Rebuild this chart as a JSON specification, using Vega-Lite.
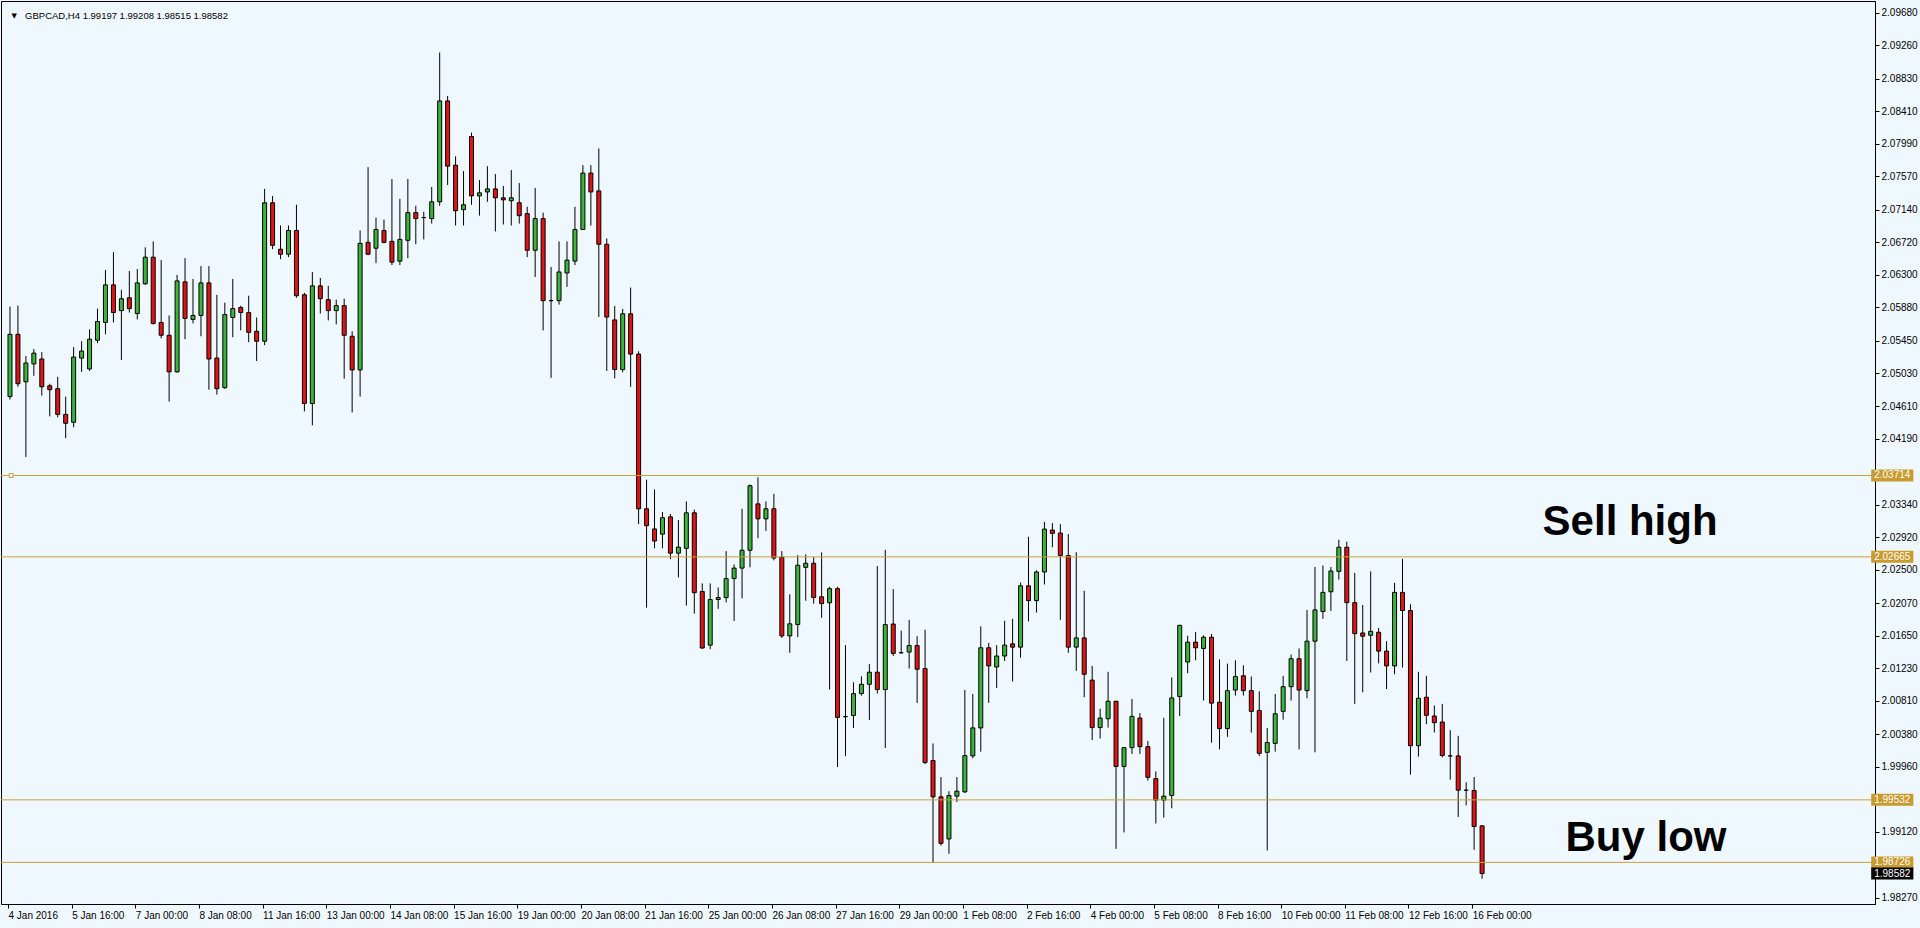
{
  "$schema": "https://vega.github.io/schema/vega-lite/v6.json",
  "width": 1874,
  "height": 903,
  "autosize": {"type": "none"},
  "padding": {"left": 1, "top": 1, "right": 45, "bottom": 24},
  "background": "#F0F8FF",
  "config": {"view": {"stroke": "#000000", "strokeWidth": 1, "fill": "#F0F8FF"}, "font": "Liberation Sans"},
  "datasets": {
    "candles": [
      {"i":0,"o":2.04731,"h":2.05891,"l":2.04693,"c":2.05534},
      {"i":1,"o":2.05534,"h":2.05904,"l":2.04858,"c":2.04897},
      {"i":2,"o":2.04922,"h":2.05254,"l":2.03953,"c":2.05164},
      {"i":3,"o":2.05152,"h":2.05343,"l":2.04999,"c":2.05292},
      {"i":4,"o":2.05216,"h":2.05305,"l":2.04744,"c":2.04858},
      {"i":5,"o":2.04871,"h":2.04897,"l":2.04476,"c":2.0482},
      {"i":6,"o":2.04833,"h":2.04986,"l":2.04463,"c":2.04502},
      {"i":7,"o":2.04502,"h":2.04731,"l":2.04196,"c":2.04387},
      {"i":8,"o":2.044,"h":2.05369,"l":2.04336,"c":2.05241},
      {"i":9,"o":2.05228,"h":2.05445,"l":2.0505,"c":2.05318},
      {"i":10,"o":2.05088,"h":2.05598,"l":2.05063,"c":2.05471},
      {"i":11,"o":2.05458,"h":2.05866,"l":2.0542,"c":2.057},
      {"i":12,"o":2.05687,"h":2.06363,"l":2.05534,"c":2.06172},
      {"i":13,"o":2.06172,"h":2.06593,"l":2.05687,"c":2.05815},
      {"i":14,"o":2.0584,"h":2.06108,"l":2.05203,"c":2.05993},
      {"i":15,"o":2.06006,"h":2.0635,"l":2.05815,"c":2.05866},
      {"i":16,"o":2.05802,"h":2.06376,"l":2.05726,"c":2.06197},
      {"i":17,"o":2.06185,"h":2.06656,"l":2.06172,"c":2.06529},
      {"i":18,"o":2.06529,"h":2.06733,"l":2.0566,"c":2.05675},
      {"i":19,"o":2.05687,"h":2.06491,"l":2.05483,"c":2.05522},
      {"i":20,"o":2.05522,"h":2.05777,"l":2.04667,"c":2.0505},
      {"i":21,"o":2.0505,"h":2.06299,"l":2.0504,"c":2.06223},
      {"i":22,"o":2.0621,"h":2.06516,"l":2.05471,"c":2.05738},
      {"i":23,"o":2.05726,"h":2.06248,"l":2.05675,"c":2.05777},
      {"i":24,"o":2.05777,"h":2.06414,"l":2.05509,"c":2.06197},
      {"i":25,"o":2.06197,"h":2.06414,"l":2.0482,"c":2.05216},
      {"i":26,"o":2.05228,"h":2.06044,"l":2.04757,"c":2.04833},
      {"i":27,"o":2.04846,"h":2.05942,"l":2.04833,"c":2.05789},
      {"i":28,"o":2.05751,"h":2.06248,"l":2.05496,"c":2.05866},
      {"i":29,"o":2.05879,"h":2.05904,"l":2.05585,"c":2.05815},
      {"i":30,"o":2.05815,"h":2.06032,"l":2.05432,"c":2.0556},
      {"i":31,"o":2.05573,"h":2.05751,"l":2.0519,"c":2.05445},
      {"i":32,"o":2.05445,"h":2.07409,"l":2.05394,"c":2.0723},
      {"i":33,"o":2.0723,"h":2.07319,"l":2.06631,"c":2.06682},
      {"i":34,"o":2.06631,"h":2.06937,"l":2.06503,"c":2.06567},
      {"i":35,"o":2.06567,"h":2.06937,"l":2.06529,"c":2.06873},
      {"i":36,"o":2.06873,"h":2.07205,"l":2.06006,"c":2.06032},
      {"i":37,"o":2.06044,"h":2.0607,"l":2.0454,"c":2.04642},
      {"i":38,"o":2.04642,"h":2.06338,"l":2.04361,"c":2.06159},
      {"i":39,"o":2.06159,"h":2.06261,"l":2.05802,"c":2.05993},
      {"i":40,"o":2.05981,"h":2.06159,"l":2.05713,"c":2.0584},
      {"i":41,"o":2.0584,"h":2.05981,"l":2.05662,"c":2.05904},
      {"i":42,"o":2.05904,"h":2.05993,"l":2.04961,"c":2.05522},
      {"i":43,"o":2.05509,"h":2.05573,"l":2.04527,"c":2.05075},
      {"i":44,"o":2.05075,"h":2.06873,"l":2.04731,"c":2.06707},
      {"i":45,"o":2.0672,"h":2.07689,"l":2.06554,"c":2.06567},
      {"i":46,"o":2.06644,"h":2.07039,"l":2.06452,"c":2.06886},
      {"i":47,"o":2.06873,"h":2.07013,"l":2.06707,"c":2.0672},
      {"i":48,"o":2.06733,"h":2.07536,"l":2.06427,"c":2.06465},
      {"i":49,"o":2.06478,"h":2.07281,"l":2.06427,"c":2.06758},
      {"i":50,"o":2.06746,"h":2.07536,"l":2.06516,"c":2.07103},
      {"i":51,"o":2.07103,"h":2.07192,"l":2.06695,"c":2.07026},
      {"i":52,"o":2.07039,"h":2.07115,"l":2.06758,"c":2.07039},
      {"i":53,"o":2.07026,"h":2.07434,"l":2.06962,"c":2.07243},
      {"i":54,"o":2.07243,"h":2.09168,"l":2.07192,"c":2.08543},
      {"i":55,"o":2.08543,"h":2.08607,"l":2.0746,"c":2.07702},
      {"i":56,"o":2.07715,"h":2.07829,"l":2.06937,"c":2.07128},
      {"i":57,"o":2.07141,"h":2.07638,"l":2.06937,"c":2.07205},
      {"i":58,"o":2.08084,"h":2.08135,"l":2.07205,"c":2.07319},
      {"i":59,"o":2.07319,"h":2.07523,"l":2.07064,"c":2.07358},
      {"i":60,"o":2.0737,"h":2.07702,"l":2.07243,"c":2.07409},
      {"i":61,"o":2.07409,"h":2.076,"l":2.0686,"c":2.07294},
      {"i":62,"o":2.07294,"h":2.07447,"l":2.0695,"c":2.07268},
      {"i":63,"o":2.07256,"h":2.07651,"l":2.06937,"c":2.07294},
      {"i":64,"o":2.0723,"h":2.07485,"l":2.06962,"c":2.07064},
      {"i":65,"o":2.0709,"h":2.07179,"l":2.06529,"c":2.06618},
      {"i":66,"o":2.06618,"h":2.07421,"l":2.06274,"c":2.07026},
      {"i":67,"o":2.07026,"h":2.07103,"l":2.05585,"c":2.05968},
      {"i":68,"o":2.05968,"h":2.06401,"l":2.04973,"c":2.05968},
      {"i":69,"o":2.05968,"h":2.06733,"l":2.05917,"c":2.06338},
      {"i":70,"o":2.06325,"h":2.06733,"l":2.06146,"c":2.06491},
      {"i":71,"o":2.06478,"h":2.07179,"l":2.06427,"c":2.06886},
      {"i":72,"o":2.06886,"h":2.07715,"l":2.06886,"c":2.07613},
      {"i":73,"o":2.07613,"h":2.07715,"l":2.06937,"c":2.0737},
      {"i":74,"o":2.07383,"h":2.07931,"l":2.05757,"c":2.06695},
      {"i":75,"o":2.06695,"h":2.06771,"l":2.05063,"c":2.05757},
      {"i":76,"o":2.0572,"h":2.05898,"l":2.04966,"c":2.0508},
      {"i":77,"o":2.0508,"h":2.05862,"l":2.05045,"c":2.05799},
      {"i":78,"o":2.05799,"h":2.06137,"l":2.04857,"c":2.05279},
      {"i":79,"o":2.05279,"h":2.05315,"l":2.03086,"c":2.03285},
      {"i":80,"o":2.03285,"h":2.0366,"l":2.0201,"c":2.03067},
      {"i":81,"o":2.03025,"h":2.03535,"l":2.02775,"c":2.0287},
      {"i":82,"o":2.02958,"h":2.03243,"l":2.02775,"c":2.0317},
      {"i":83,"o":2.03181,"h":2.03218,"l":2.02635,"c":2.02713},
      {"i":84,"o":2.02713,"h":2.0314,"l":2.024,"c":2.0279},
      {"i":85,"o":2.02775,"h":2.0338,"l":2.02037,"c":2.03233},
      {"i":86,"o":2.03233,"h":2.03275,"l":2.01932,"c":2.02203},
      {"i":87,"o":2.02219,"h":2.02323,"l":2.0148,"c":2.0149},
      {"i":88,"o":2.01527,"h":2.02323,"l":2.01475,"c":2.02115},
      {"i":89,"o":2.02115,"h":2.0227,"l":2.01995,"c":2.0214},
      {"i":90,"o":2.0214,"h":2.02739,"l":2.02078,"c":2.02385},
      {"i":91,"o":2.02385,"h":2.02567,"l":2.01838,"c":2.0252},
      {"i":92,"o":2.0252,"h":2.03285,"l":2.0213,"c":2.0275},
      {"i":93,"o":2.0275,"h":2.03598,"l":2.0253,"c":2.03582},
      {"i":94,"o":2.03348,"h":2.03691,"l":2.02905,"c":2.03155},
      {"i":95,"o":2.03155,"h":2.0338,"l":2.03,"c":2.03285},
      {"i":96,"o":2.03285,"h":2.03478,"l":2.0262,"c":2.0265},
      {"i":97,"o":2.0266,"h":2.02739,"l":2.0162,"c":2.01646},
      {"i":98,"o":2.01646,"h":2.02182,"l":2.01428,"c":2.01802},
      {"i":99,"o":2.01792,"h":2.02687,"l":2.0163,"c":2.02557},
      {"i":100,"o":2.0253,"h":2.02697,"l":2.02099,"c":2.02583},
      {"i":101,"o":2.02583,"h":2.0266,"l":2.02062,"c":2.0214},
      {"i":102,"o":2.0215,"h":2.02723,"l":2.0188,"c":2.02062},
      {"i":103,"o":2.02073,"h":2.0228,"l":2.00954,"c":2.02255},
      {"i":104,"o":2.02255,"h":2.0228,"l":1.99955,"c":2.00595},
      {"i":105,"o":2.00605,"h":2.01527,"l":2.00095,"c":2.00605},
      {"i":106,"o":2.0062,"h":2.01048,"l":2.0046,"c":2.00902},
      {"i":107,"o":2.00902,"h":2.01125,"l":2.00875,"c":2.01022},
      {"i":108,"o":2.01022,"h":2.01282,"l":2.00563,"c":2.01178},
      {"i":109,"o":2.01178,"h":2.02547,"l":2.00902,"c":2.00954},
      {"i":110,"o":2.00954,"h":2.02755,"l":2.002,"c":2.01792},
      {"i":111,"o":2.01799,"h":2.02249,"l":2.01387,"c":2.0142},
      {"i":112,"o":2.01429,"h":2.01713,"l":2.01416,"c":2.01429},
      {"i":113,"o":2.01438,"h":2.01853,"l":2.01225,"c":2.01522},
      {"i":114,"o":2.01522,"h":2.01642,"l":2.00782,"c":2.01216},
      {"i":115,"o":2.01225,"h":2.01726,"l":1.99992,"c":2.00014},
      {"i":116,"o":2.00039,"h":2.0026,"l":1.98717,"c":1.99571},
      {"i":117,"o":1.99571,"h":1.99826,"l":1.98943,"c":1.98972},
      {"i":118,"o":1.99028,"h":1.99644,"l":1.98837,"c":1.99589},
      {"i":119,"o":1.9958,"h":1.99826,"l":1.99504,"c":1.99644},
      {"i":120,"o":1.99635,"h":2.00948,"l":1.99622,"c":2.00103},
      {"i":121,"o":2.00099,"h":2.00897,"l":2.00068,"c":2.0046},
      {"i":122,"o":2.0046,"h":2.01769,"l":2.00154,"c":2.01493},
      {"i":123,"o":2.01493,"h":2.01556,"l":2.00782,"c":2.01259},
      {"i":124,"o":2.01246,"h":2.01527,"l":2.00974,"c":2.01387},
      {"i":125,"o":2.01387,"h":2.01841,"l":2.01323,"c":2.01527},
      {"i":126,"o":2.01544,"h":2.01866,"l":2.01059,"c":2.01501},
      {"i":127,"o":2.01501,"h":2.02334,"l":2.01365,"c":2.02292},
      {"i":128,"o":2.02292,"h":2.02924,"l":2.01833,"c":2.02101},
      {"i":129,"o":2.02101,"h":2.02491,"l":2.01948,"c":2.0247},
      {"i":130,"o":2.0247,"h":2.03116,"l":2.02309,"c":2.03023},
      {"i":131,"o":2.0301,"h":2.03099,"l":2.02789,"c":2.02968},
      {"i":132,"o":2.02972,"h":2.03086,"l":2.01853,"c":2.02682},
      {"i":133,"o":2.02682,"h":2.02959,"l":2.01429,"c":2.01501},
      {"i":134,"o":2.01501,"h":2.02725,"l":2.01195,"c":2.0162},
      {"i":135,"o":2.0162,"h":2.02228,"l":2.00855,"c":2.01152},
      {"i":136,"o":2.01076,"h":2.01259,"l":2.00303,"c":2.00464},
      {"i":137,"o":2.00464,"h":2.00706,"l":2.00323,"c":2.00587},
      {"i":138,"o":2.00578,"h":2.01183,"l":2.00464,"c":2.00804},
      {"i":139,"o":2.00804,"h":2.00804,"l":1.989,"c":1.99963},
      {"i":140,"o":1.99963,"h":2.00209,"l":1.99112,"c":2.00205},
      {"i":141,"o":2.00205,"h":2.00833,"l":2.00124,"c":2.00609},
      {"i":142,"o":2.00587,"h":2.00651,"l":2.00124,"c":2.00218},
      {"i":143,"o":2.00218,"h":2.0029,"l":1.9978,"c":1.99822},
      {"i":144,"o":1.99806,"h":1.99899,"l":1.99227,"c":1.99529},
      {"i":145,"o":1.99529,"h":2.00591,"l":1.99303,"c":1.9958},
      {"i":146,"o":1.99589,"h":2.0111,"l":1.99423,"c":2.00846},
      {"i":147,"o":2.00864,"h":2.0179,"l":2.00613,"c":2.01782},
      {"i":148,"o":2.0131,"h":2.01649,"l":2.01165,"c":2.01565},
      {"i":149,"o":2.01565,"h":2.01697,"l":2.01331,"c":2.01493},
      {"i":150,"o":2.01484,"h":2.01654,"l":2.00813,"c":2.01629},
      {"i":151,"o":2.01629,"h":2.01671,"l":2.00269,"c":2.00779},
      {"i":152,"o":2.00791,"h":2.01343,"l":2.00183,"c":2.00451},
      {"i":153,"o":2.00451,"h":2.01289,"l":2.00345,"c":2.0094},
      {"i":154,"o":2.00948,"h":2.01331,"l":2.00877,"c":2.01123},
      {"i":155,"o":2.01132,"h":2.01267,"l":2.00877,"c":2.0094},
      {"i":156,"o":2.0094,"h":2.01123,"l":2.004,"c":2.00673},
      {"i":157,"o":2.00685,"h":2.00932,"l":2.00099,"c":2.00132},
      {"i":158,"o":2.00145,"h":2.0046,"l":1.98879,"c":2.00272},
      {"i":159,"o":2.0026,"h":2.00897,"l":2.00154,"c":2.00642},
      {"i":160,"o":2.00673,"h":2.01132,"l":2.00566,"c":2.00991},
      {"i":161,"o":2.00991,"h":2.01407,"l":2.00813,"c":2.01352},
      {"i":162,"o":2.01352,"h":2.01484,"l":2.00183,"c":2.00948},
      {"i":163,"o":2.0094,"h":2.01981,"l":2.00842,"c":2.01578},
      {"i":164,"o":2.01578,"h":2.02534,"l":2.00145,"c":2.01981},
      {"i":165,"o":2.0196,"h":2.02555,"l":2.01866,"c":2.02207},
      {"i":166,"o":2.02215,"h":2.02534,"l":2.01968,"c":2.02483},
      {"i":167,"o":2.02478,"h":2.02886,"l":2.02372,"c":2.02789},
      {"i":168,"o":2.02789,"h":2.02861,"l":2.01323,"c":2.02075},
      {"i":169,"o":2.02075,"h":2.02458,"l":2.0077,"c":2.01675},
      {"i":170,"o":2.01684,"h":2.02045,"l":2.00919,"c":2.01642},
      {"i":171,"o":2.01654,"h":2.02478,"l":2.01174,"c":2.01705},
      {"i":172,"o":2.01693,"h":2.01748,"l":2.01292,"c":2.0145},
      {"i":173,"o":2.0145,"h":2.01578,"l":2.00961,"c":2.01259},
      {"i":174,"o":2.01259,"h":2.0233,"l":2.01152,"c":2.02207},
      {"i":175,"o":2.02207,"h":2.0264,"l":2.01238,"c":2.01973},
      {"i":176,"o":2.01973,"h":2.02054,"l":1.99857,"c":2.0023},
      {"i":177,"o":2.0023,"h":2.01183,"l":2.0009,"c":2.00842},
      {"i":178,"o":2.00855,"h":2.01132,"l":2.00507,"c":2.00622},
      {"i":179,"o":2.00613,"h":2.00749,"l":2.004,"c":2.00527},
      {"i":180,"o":2.00536,"h":2.0077,"l":2.00081,"c":2.00103},
      {"i":181,"o":2.00099,"h":2.0043,"l":1.99793,"c":2.00099},
      {"i":182,"o":2.00099,"h":2.00358,"l":1.99312,"c":1.99657},
      {"i":183,"o":1.99657,"h":1.99759,"l":1.99461,"c":1.99657},
      {"i":184,"o":1.99653,"h":1.99826,"l":1.98888,"c":1.99189},
      {"i":185,"o":1.99197,"h":1.99208,"l":1.98515,"c":1.98582}
    ],
    "levels": [
      {"p":2.03714,"t":"2.03714","k":"line"},
      {"p":2.02665,"t":"2.02665","k":"line"},
      {"p":1.99532,"t":"1.99532","k":"line"},
      {"p":1.98726,"t":"1.98726","k":"line"},
      {"p":1.98582,"t":"1.98582","k":"bid"}
    ],
    "notes": [
      {"t":"Sell high","x":203.6,"p":2.03113},
      {"t":"Buy low","x":205.6,"p":1.99045}
    ],
    "header": [
      {"t":"GBPCAD,H4  1.99197 1.99208 1.98515 1.98582","x":1.9,"p":2.0964}
    ]
  },
  "layer": [
    {
      "data": {"name": "candles"},
      "mark": {"type": "rule", "color": "#000000", "strokeWidth": 1},
      "encoding": {
        "x": {"field": "i", "type": "quantitative", "scale": {"domain": [-0.5, 233.75], "nice": false, "zero": false},
          "axis": {
            "orient": "bottom", "title": null, "grid": false, "tickCount": 80,
            "values": [-0.25, 7.75, 15.75, 23.75, 31.75, 39.75, 47.75, 55.75, 63.75, 71.75, 79.75, 87.75, 95.75, 103.75, 111.75, 119.75, 127.75, 135.75, 143.75, 151.75, 159.75, 167.75, 175.75, 183.75],
            "labelExpr": "datum.value < 0 ? '4 Jan 2016' : ['5 Jan 16:00','7 Jan 00:00','8 Jan 08:00','11 Jan 16:00','13 Jan 00:00','14 Jan 08:00','15 Jan 16:00','19 Jan 00:00','20 Jan 08:00','21 Jan 16:00','25 Jan 00:00','26 Jan 08:00','27 Jan 16:00','29 Jan 00:00','1 Feb 08:00','2 Feb 16:00','4 Feb 00:00','5 Feb 08:00','8 Feb 16:00','10 Feb 00:00','11 Feb 08:00','12 Feb 16:00','16 Feb 00:00'][round((datum.value - 7.75) / 8)]",
            "domain": true, "domainColor": "#000000", "domainWidth": 1,
            "ticks": true, "tickColor": "#000000", "tickSize": 4, "tickWidth": 1,
            "labelAlign": "left", "labelBaseline": "top", "labelPadding": 2, "labelDx": 2,
            "labelFont": "Liberation Sans", "labelFontSize": 10, "labelColor": "#000000",
            "labelOverlap": false, "labelBound": false, "labelFlush": false
          }
        },
        "y": {"field": "l", "type": "quantitative", "scale": {"domain": [1.98254, 2.09767], "nice": false, "zero": false},
          "axis": {
            "orient": "right", "title": null, "grid": false, "tickCount": 80,
            "values": [2.0968, 2.0926, 2.0883, 2.0841, 2.0799, 2.0757, 2.0714, 2.0672, 2.063, 2.0588, 2.0545, 2.0503, 2.0461, 2.0419, 2.0334, 2.0292, 2.025, 2.0207, 2.0165, 2.0123, 2.0081, 2.0038, 1.9996, 1.9912, 1.9827],
            "format": ".5f",
            "domain": true, "domainColor": "#000000", "domainWidth": 1,
            "ticks": true, "tickColor": "#000000", "tickSize": 4, "tickWidth": 1,
            "labelAlign": "left", "labelBaseline": "middle", "labelPadding": 2,
            "labelFont": "Liberation Sans", "labelFontSize": 10, "labelColor": "#000000",
            "labelOverlap": false, "labelBound": false, "labelFlush": false
          }
        },
        "y2": {"field": "h"}
      }
    },
    {
      "data": {"name": "candles"},
      "mark": {"type": "bar", "size": 4, "stroke": "#000000", "strokeWidth": 1},
      "encoding": {
        "x": {"field": "i", "type": "quantitative"},
        "y": {"field": "o", "type": "quantitative"},
        "y2": {"field": "c"},
        "color": {"condition": {"test": "datum.c >= datum.o", "value": "#3cb43c"}, "value": "#e01414"}
      }
    },
    {
      "data": {"name": "levels"},
      "transform": [{"filter": "datum.k == 'line'"}],
      "mark": {"type": "rule", "color": "#c9a03a", "strokeWidth": 1},
      "encoding": {
        "y": {"field": "p", "type": "quantitative"}
      }
    },
    {
      "data": {"name": "levels"},
      "transform": [{"filter": "datum.p == 2.03714"}],
      "mark": {"type": "point", "shape": "square", "size": 16, "filled": true, "fill": "#F0F8FF", "stroke": "#c9a03a", "strokeWidth": 1, "opacity": 1},
      "encoding": {
        "x": {"datum": 0.15, "type": "quantitative"},
        "y": {"field": "p", "type": "quantitative"}
      }
    },
    {
      "data": {"name": "levels"},
      "mark": {"type": "bar", "size": 12},
      "encoding": {
        "x": {"datum": 233.9, "type": "quantitative"},
        "x2": {"datum": 239.2},
        "y": {"field": "p", "type": "quantitative"},
        "color": {"condition": {"test": "datum.k == 'bid'", "value": "#000000"}, "value": "#c99a2e"}
      }
    },
    {
      "data": {"name": "levels"},
      "mark": {"type": "text", "color": "#ffffff", "fontSize": 10, "font": "Liberation Sans", "align": "center", "baseline": "middle"},
      "encoding": {
        "x": {"datum": 236.55, "type": "quantitative"},
        "y": {"field": "p", "type": "quantitative"},
        "text": {"field": "t"}
      }
    },
    {
      "data": {"name": "notes"},
      "mark": {"type": "text", "fontSize": 42, "fontWeight": "bold", "font": "Liberation Sans", "color": "#000000", "align": "center", "baseline": "middle"},
      "encoding": {
        "x": {"field": "x", "type": "quantitative"},
        "y": {"field": "p", "type": "quantitative"},
        "text": {"field": "t"}
      }
    },
    {
      "data": {"name": "header"},
      "mark": {"type": "text", "text": "▼", "fontSize": 7, "font": "DejaVu Sans", "color": "#000000", "align": "center", "baseline": "middle", "dx": -11},
      "encoding": {
        "x": {"field": "x", "type": "quantitative"},
        "y": {"field": "p", "type": "quantitative"}
      }
    },
    {
      "data": {"name": "header"},
      "mark": {"type": "text", "fontSize": 9.5, "font": "Liberation Sans", "color": "#000000", "align": "left", "baseline": "middle"},
      "encoding": {
        "x": {"field": "x", "type": "quantitative"},
        "y": {"field": "p", "type": "quantitative"},
        "text": {"field": "t"}
      }
    }
  ]
}
